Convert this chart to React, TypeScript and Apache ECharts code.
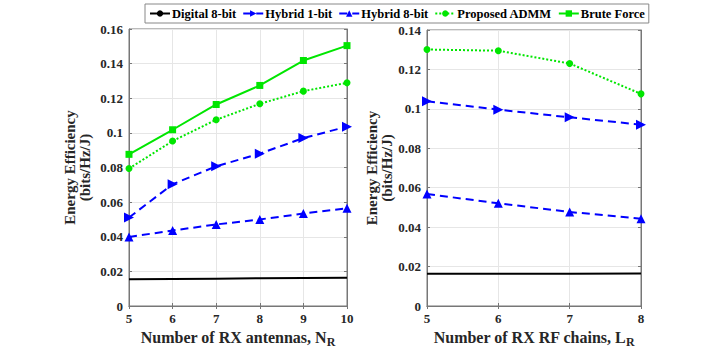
import React, { useEffect, useRef } from "react";
import * as echarts from "echarts";

const nrCategories = [5, 6, 7, 8, 9, 10];
const lrCategories = [5, 6, 7, 8];

const leftDigital = [0.0154, 0.0156, 0.0158, 0.016, 0.0162, 0.0163];
const leftHybrid1 = [0.0511, 0.0703, 0.0807, 0.088, 0.097, 0.1036];
const leftHybrid8 = [0.0399, 0.0436, 0.0471, 0.05, 0.0534, 0.0565];
const leftAdmm = [0.0794, 0.0953, 0.1076, 0.1168, 0.1241, 0.1289];
const leftBrute = [0.0876, 0.1018, 0.1164, 0.1274, 0.1418, 0.1504];

const rightDigital = [0.0163, 0.0164, 0.0164, 0.0165];
const rightHybrid1 = [0.1038, 0.0996, 0.0957, 0.092];
const rightHybrid8 = [0.0568, 0.0521, 0.0477, 0.0443];
const rightAdmm = [0.1301, 0.1295, 0.123, 0.1076];

const seriesNames = ["Digital 8-bit", "Hybrid 1-bit", "Hybrid 8-bit", "Proposed ADMM", "Brute Force"];

const BLUE = "#0000ff";
const GREEN = "#00e600";
const FONT = "'Liberation Serif', 'Times New Roman', serif";

const pair = (xs: number[], ys: number[]) => xs.map((x, i) => [x, ys[i]]);

const fmt = (v: number) => (v === 0 ? "0" : String(parseFloat(v.toFixed(2))));

export default function App() {
  const ref = useRef<HTMLDivElement>(null);
  useEffect(() => {
    if (!ref.current) return;
    const chart = echarts.init(ref.current, undefined, { renderer: "svg" });
    const axisLabel = { fontFamily: FONT, fontWeight: "bold", fontSize: 13, color: "#262626" };
    const tick = { show: true, inside: true, length: 3, lineStyle: { color: "#777" } };
    const yAxisCommon = {
      type: "value",
      interval: 0.02,
      min: 0,
      name: "Energy Efficiency\n(bits/Hz/J)",
      nameLocation: "middle",
      nameRotate: 90,
      nameTextStyle: { fontFamily: FONT, fontWeight: "bold", fontSize: 15, color: "#262626", lineHeight: 15 },
      axisLine: { show: true, lineStyle: { color: "#777" } },
      axisTick: tick,
      splitLine: { show: true, lineStyle: { color: "#e6e6e6" } },
      axisLabel: { ...axisLabel, margin: 6, formatter: fmt },
    };
    const xAxisCommon = {
      type: "value",
      interval: 1,
      min: 5,
      nameLocation: "middle",
      nameGap: 19,
      nameTextStyle: {
        fontFamily: FONT,
        fontWeight: "bold",
        fontSize: 16,
        color: "#262626",
        rich: {
          a: { fontFamily: FONT, fontWeight: "bold", fontSize: 16, color: "#262626" },
          sub: { fontFamily: FONT, fontWeight: "bold", fontSize: 12, color: "#262626", padding: [8, 0, 0, 0] },
        },
      },
      axisLine: { show: true, lineStyle: { color: "#777" } },
      axisTick: tick,
      splitLine: { show: true, lineStyle: { color: "#e6e6e6" } },
      axisLabel: { ...axisLabel, margin: 6 },
    };
    const mirror = {
      axisLine: { show: true, lineStyle: { color: "#777" } },
      axisTick: tick,
      axisLabel: { show: false },
      splitLine: { show: false },
    };
    const mk = (name: string, xi: number, data: number[][]) => {
      const base: any = { name, type: "line", xAxisIndex: xi, yAxisIndex: xi, data, z: 3 };
      if (name === "Digital 8-bit") {
        return { ...base, color: "#000", symbol: "none", lineStyle: { color: "#000", width: 2, type: "solid" } };
      }
      if (name === "Hybrid 1-bit") {
        return {
          ...base,
          color: BLUE,
          symbol: "triangle",
          symbolRotate: -90,
          symbolSize: 10,
          itemStyle: { color: BLUE },
          lineStyle: { color: BLUE, width: 2, type: [8, 5] },
        };
      }
      if (name === "Hybrid 8-bit") {
        return {
          ...base,
          color: BLUE,
          symbol: "triangle",
          symbolSize: 9,
          itemStyle: { color: BLUE },
          lineStyle: { color: BLUE, width: 2, type: [8, 5] },
        };
      }
      if (name === "Proposed ADMM") {
        return {
          ...base,
          color: GREEN,
          symbol: "circle",
          symbolSize: 7,
          itemStyle: { color: GREEN },
          lineStyle: { color: GREEN, width: 2, type: [2, 2] },
        };
      }
      return {
        ...base,
        color: GREEN,
        symbol: "rect",
        symbolSize: 7,
        itemStyle: { color: GREEN },
        lineStyle: { color: GREEN, width: 2, type: "solid" },
      };
    };
    chart.setOption({
      animation: false,
      backgroundColor: "#fff",
      textStyle: { fontFamily: FONT },
      legend: {
        data: seriesNames,
        left: 145,
        top: 4,
        itemWidth: 20,
        itemHeight: 8,
        itemGap: 6,
        padding: [3, 4, 3, 4],
        borderColor: "#888",
        borderWidth: 1,
        backgroundColor: "#fff",
        textStyle: { fontFamily: FONT, fontWeight: "bold", fontSize: 12.5, color: "#000", padding: [0, 0, 0, -3] },
      },
      grid: [
        { left: 129, right: 359, top: 29, bottom: 42, outerBoundsMode: "none", containLabel: false, show: true, borderColor: "#777", borderWidth: 1, backgroundColor: "transparent" },
        { left: 427, right: 65, top: 30, bottom: 42, outerBoundsMode: "none", containLabel: false, show: true, borderColor: "#777", borderWidth: 1, backgroundColor: "transparent" },
      ],
      xAxis: [
        { ...xAxisCommon, gridIndex: 0, max: 10, name: "{a|Number of RX antennas, N}{sub|R}" },
        { ...xAxisCommon, gridIndex: 1, max: 8, name: "{a|Number of RX RF chains, L}{sub|R}" },
        { type: "value", gridIndex: 0, position: "top", min: 5, max: 10, interval: 1, ...mirror },
        { type: "value", gridIndex: 1, position: "top", min: 5, max: 8, interval: 1, ...mirror },
      ],
      yAxis: [
        { ...yAxisCommon, gridIndex: 0, max: 0.16, nameGap: 37 },
        { ...yAxisCommon, gridIndex: 1, max: 0.14, nameGap: 32 },
        { type: "value", gridIndex: 0, position: "right", min: 0, max: 0.16, interval: 0.02, ...mirror },
        { type: "value", gridIndex: 1, position: "right", min: 0, max: 0.14, interval: 0.02, ...mirror },
      ],
      series: [
        mk("Digital 8-bit", 0, pair(nrCategories, leftDigital)),
        mk("Hybrid 1-bit", 0, pair(nrCategories, leftHybrid1)),
        mk("Hybrid 8-bit", 0, pair(nrCategories, leftHybrid8)),
        mk("Proposed ADMM", 0, pair(nrCategories, leftAdmm)),
        mk("Brute Force", 0, pair(nrCategories, leftBrute)),
        mk("Digital 8-bit", 1, pair(lrCategories, rightDigital)),
        mk("Hybrid 1-bit", 1, pair(lrCategories, rightHybrid1)),
        mk("Hybrid 8-bit", 1, pair(lrCategories, rightHybrid8)),
        mk("Proposed ADMM", 1, pair(lrCategories, rightAdmm)),
      ],
    });
    return () => chart.dispose();
  }, []);
  return <div ref={ref} style={{ width: 706, height: 348, position: "absolute", left: 0, top: 0 }} />;
}
